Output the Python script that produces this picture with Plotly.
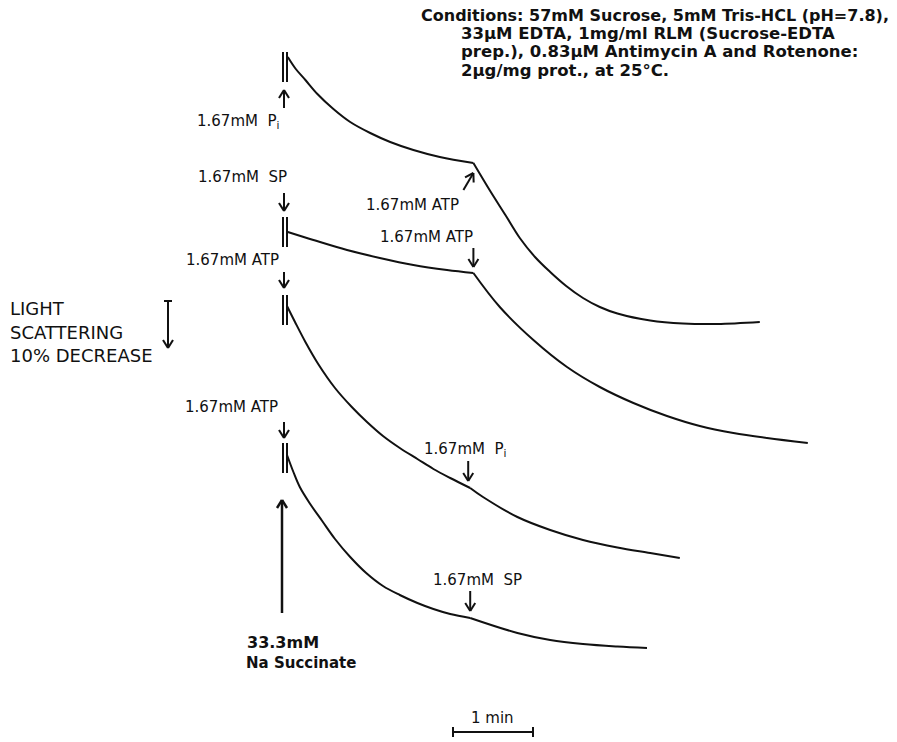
import math
import plotly.graph_objects as go

# ---------------- data ----------------
# Time axis in minutes after the first addition; signal = light-scattering
# deflection in chart units (increasing downward = decrease in scattering).
PX_PER_MIN = 80.0      # length of the "1 min" bar
X0_PX = 283.0          # where t = 0 sits in the 897-px frame
SCATTER_10PCT = 47     # length of the "10% decrease" bar, in signal units

# Trace A: Pi first, then ATP
tA1 = [0.06, 0.16, 0.28, 0.43, 0.63, 0.84, 1.09, 1.34, 1.63, 1.96, 2.38]
sA1 = [57, 69, 80, 94, 109, 122, 133, 142, 150, 157, 163]
tA2 = [2.38, 2.59, 2.78, 2.96, 3.15, 3.34, 3.54, 3.75, 3.96, 4.18, 4.59, 5.00, 5.43, 5.96]
sA2 = [163, 191, 215, 238, 257, 272, 286, 298, 307, 313.5, 320.5, 323.5, 324, 322]

# Trace B: SP first, then ATP
tB1 = [0.06, 0.38, 0.80, 1.21, 1.63, 2.05, 2.38]
sB1 = [232, 240, 250, 258, 265, 270, 273]
tB2 = [2.38, 2.71, 3.13, 3.55, 3.96, 4.38, 4.80, 5.21, 5.63, 6.05, 6.56]
sB2 = [273, 307, 340, 367, 387, 403, 416, 426, 433, 438, 443]

# Trace C: ATP first, then Pi
tC1 = [0.05, 0.15, 0.28, 0.44, 0.65, 0.86, 1.05, 1.25, 1.46, 1.68, 1.88, 2.09, 2.34]
sC1 = [306, 322, 342, 364, 388, 407, 422, 436, 448, 459, 469, 478, 488]
tC2 = [2.34, 2.50, 2.93, 3.34, 3.75, 4.18, 4.59, 4.96]
sC2 = [488, 497, 517, 530, 540, 547.5, 553, 558]

# Trace D: ATP first, then SP
tD1 = [0.05, 0.13, 0.21, 0.34, 0.49, 0.65, 0.84, 1.04, 1.25, 1.46, 1.68, 1.88, 2.09, 2.34]
sD1 = [455, 472, 487, 504, 521, 539, 557, 573, 586, 595, 603, 609, 614, 618]
tD2 = [2.34, 2.93, 3.34, 3.75, 4.18, 4.55]
sD2 = [618, 633, 640, 644, 646.5, 648]

# Addition markers "||" (top of each double bar, signal units)
bar_tops = [52, 217, 295, 443]
BAR_LEN = 30

# Second additions (time in min)
t_second = [2.38, 2.38, 2.34, 2.34]

conditions = [
    "Conditions: 57mM Sucrose, 5mM Tris-HCL (pH=7.8),",
    "33μM EDTA, 1mg/ml RLM (Sucrose-EDTA",
    "prep.), 0.83μM Antimycin A and Rotenone:",
    "2μg/mg prot., at 25°C.",
]

# ---------------- figure ----------------
INK = "#111111"
FONT = "DejaVu Sans"
W, H = 897, 742


def T(px):
    """frame pixel -> minutes (for placing labels)"""
    return (px - X0_PX) / PX_PER_MIN


fig = go.Figure()

for tt, ss in [(tA1, sA1), (tA2, sA2), (tB1, sB1), (tB2, sB2),
               (tC1, sC1), (tC2, sC2), (tD1, sD1), (tD2, sD2)]:
    fig.add_trace(go.Scatter(x=tt, y=ss, mode="lines",
                             line=dict(color=INK, width=2, shape="spline", smoothing=1.0),
                             hoverinfo="skip", showlegend=False))

shapes = []


def seg(x0, y0, x1, y1, w=2):
    shapes.append(dict(type="line", xref="x", yref="y", x0=x0, y0=y0, x1=x1, y1=y1,
                       line=dict(color=INK, width=w)))


def arrow_px(xt, yt, xh, yh, w=2, hl=8, hw=5):
    """arrow from tail to head, given in frame pixels"""
    dx, dy = xh - xt, yh - yt
    L = math.hypot(dx, dy)
    ux, uy = dx / L, dy / L
    px_, py_ = -uy, ux
    seg(T(xt), yt, T(xh), yh, w)
    bx, by = xh - hl * ux, yh - hl * uy
    seg(T(bx + hw * px_), by + hw * py_, T(xh), yh, w)
    seg(T(bx - hw * px_), by - hw * py_, T(xh), yh, w)


# double bars at t = 0
for top in bar_tops:
    seg(0.0, top, 0.0, top + BAR_LEN, 2)
    seg(4.0 / PX_PER_MIN, top, 4.0 / PX_PER_MIN, top + BAR_LEN, 2)

ax0 = X0_PX + 1
# arrows at first additions
arrow_px(ax0, 108, ax0, 90)          # Pi (up)
arrow_px(ax0, 193, ax0, 211)         # SP
arrow_px(ax0, 272, ax0, 288)         # ATP
arrow_px(ax0, 422, ax0, 438)         # ATP
arrow_px(X0_PX - 1, 613, X0_PX - 1, 500, w=2.5)   # succinate (up)

# arrows at second additions
xa = X0_PX + PX_PER_MIN * t_second[0]
arrow_px(xa - 10, 190, xa, 173)      # ATP on trace A
xb = X0_PX + PX_PER_MIN * t_second[1]
arrow_px(xb, 248, xb, 267)           # ATP on trace B
xc = X0_PX + PX_PER_MIN * t_second[2] - 2
arrow_px(xc, 461, xc, 481)           # Pi on trace C
xd = X0_PX + PX_PER_MIN * t_second[3]
arrow_px(xd, 591, xd, 611)           # SP on trace D

# light scattering scale bar
sx = 168
seg(T(sx - 4), 301, T(sx + 4), 301, 2)
arrow_px(sx, 301, sx, 301 + SCATTER_10PCT)

# 1 min bar
bx0 = 453
seg(T(bx0), 732, T(bx0) + 1.0, 732, 2)
seg(T(bx0), 727, T(bx0), 737, 2)
seg(T(bx0) + 1.0, 727, T(bx0) + 1.0, 737, 2)

ann = []


def label(px, py, text, size=15, anchor="center", bold=False):
    ann.append(dict(x=T(px), y=py, xref="x", yref="y", text=text, showarrow=False,
                    xanchor=anchor, yanchor="middle", align="left",
                    font=dict(family=FONT, size=size, color=INK,
                              weight="bold" if bold else "normal")))


PI = "P<sub>i</sub>"
label(238, 121, "1.67mM  " + PI)
label(242, 177, "1.67mM  SP")
label(232, 260, "1.67mM ATP")
label(231, 407, "1.67mM ATP")
label(412, 205, "1.67mM ATP")
label(426, 237, "1.67mM ATP")
label(465, 449, "1.67mM  " + PI)
label(477, 580, "1.67mM  SP")

label(245, 642, "33.3mM", size=16, anchor="left", bold=True)
label(244, 663, "Na Succinate", size=15, anchor="left", bold=True)
label(492, 718, "1 min", size=15)

label(8, 308, "LIGHT", size=18, anchor="left")
label(8, 332, "SCATTERING", size=18, anchor="left")
label(8, 355, "10% DECREASE", size=18, anchor="left")

label(419, 15, conditions[0], size=16, anchor="left", bold=True)
for i, line in enumerate(conditions[1:]):
    label(459, 33 + 18.5 * i, line, size=16.5, anchor="left", bold=True)

fig.update_layout(
    width=W, height=H, margin=dict(l=0, r=0, t=0, b=0),
    paper_bgcolor="white", plot_bgcolor="white",
    xaxis=dict(range=[T(0), T(W)], visible=False, fixedrange=True),
    yaxis=dict(range=[H, 0], visible=False, fixedrange=True),
    shapes=shapes, annotations=ann, showlegend=False,
)

fig.write_html("out.html")
